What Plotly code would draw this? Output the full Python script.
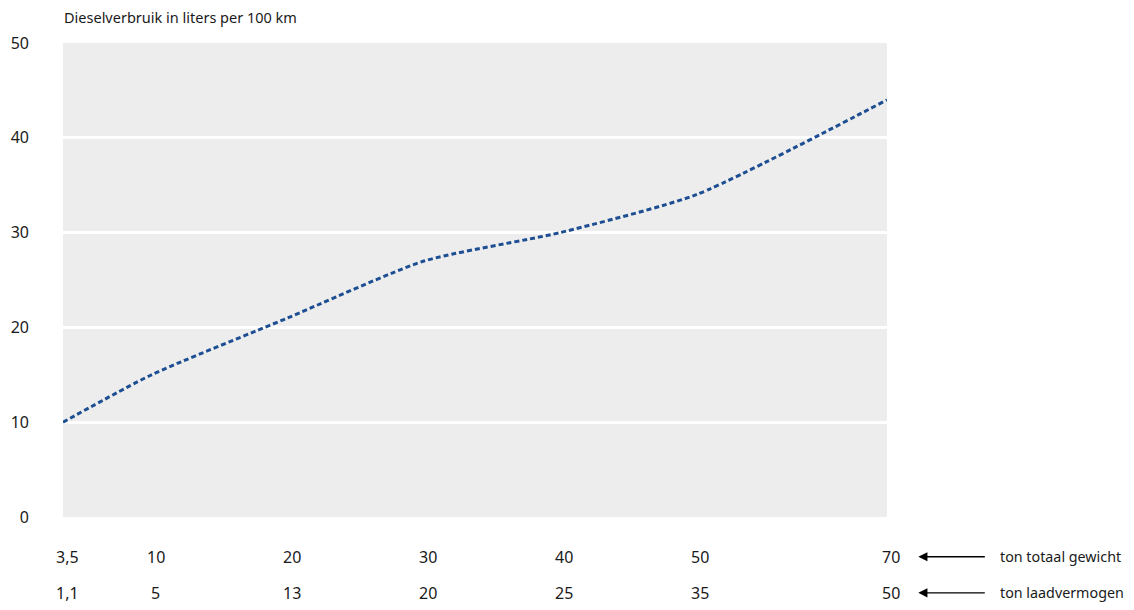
import plotly.graph_objects as go

# Data
x_pos = [3.5, 10, 20, 30, 40, 50, 64]          # horizontal placement of each weight class
totaal_gewicht = ["3,5", "10", "20", "30", "40", "50", "70"]
laadvermogen = ["1,1", "5", "13", "20", "25", "35", "50"]
diesel = [10, 15, 21, 27, 30, 34, 44]
y_ticks = [0, 10, 20, 30, 40, 50]

FONT = "Noto Sans, Open Sans, sans-serif"
TXT = "#1a1a1a"

fig = go.Figure()
fig.add_trace(go.Scatter(
    x=x_pos, y=diesel, mode="lines",
    line=dict(color="#1d4e92", width=3, dash="5px,3px", shape="spline", smoothing=0.6),
    hoverinfo="skip", showlegend=False,
))

ann = []
for xv, t1, t2 in zip(x_pos, totaal_gewicht, laadvermogen):
    ann.append(dict(x=xv, y=-0.084, xref="x", yref="paper", text=t1, showarrow=False,
                    xanchor="center", yanchor="middle", xshift=4, font=dict(size=16, color=TXT)))
    ann.append(dict(x=xv, y=-0.16, xref="x", yref="paper", text=t2, showarrow=False,
                    xanchor="center", yanchor="middle", xshift=4, font=dict(size=16, color=TXT)))

# arrows + labels at right
for yy, label in [(-0.084, "ton totaal gewicht"), (-0.16, "ton laadvermogen")]:
    ann.append(dict(x=1.038, y=yy, xref="paper", yref="paper", text="", showarrow=True,
                    ax=68, ay=0, axref="pixel", ayref="pixel",
                    arrowhead=2, arrowsize=1.3, arrowwidth=1.4, arrowcolor="#000000"))
    ann.append(dict(x=1.135, y=yy, xref="paper", yref="paper", text=label, showarrow=False,
                    xanchor="left", yanchor="middle", font=dict(size=14.3, color=TXT)))

ann.append(dict(x=0, y=1.055, xref="paper", yref="paper", text="Dieselverbruik in liters per 100 km",
                showarrow=False, xanchor="left", yanchor="middle", xshift=-1,
                font=dict(size=14.5, color=TXT)))

fig.update_layout(
    width=1126, height=602,
    margin=dict(l=55, r=247, t=35, b=93, autoexpand=False),
    paper_bgcolor="white", plot_bgcolor="#ededed",
    font=dict(family=FONT, color=TXT),
    annotations=ann,
    xaxis=dict(range=[3.5, 64], showticklabels=False, showgrid=False, zeroline=False,
               ticks="", fixedrange=True, automargin=False),
    yaxis=dict(range=[0, 50], tickvals=y_ticks, showgrid=True, gridcolor="white", gridwidth=2.5,
               zeroline=False, ticks="", tickfont=dict(size=16, color=TXT),
               ticklabelstandoff=33, fixedrange=True, automargin=False),
)

fig.write_html("out.html")
